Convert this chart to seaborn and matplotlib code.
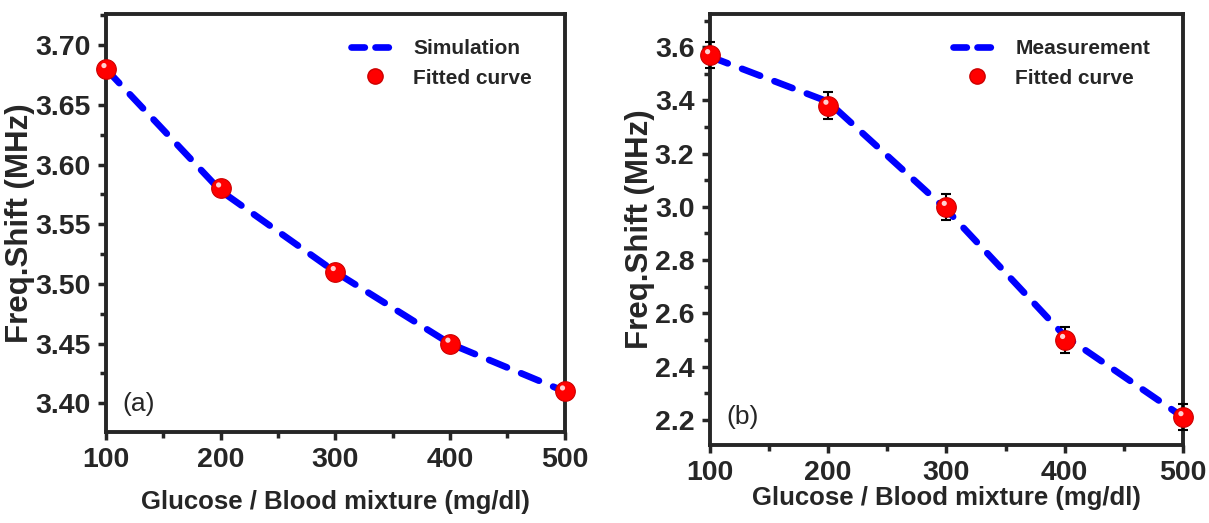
import numpy as np
import matplotlib
matplotlib.use("Agg")
import matplotlib.pyplot as plt
import matplotlib.transforms as mtransforms
from matplotlib.lines import Line2D
import seaborn as sns
import pandas as pd

# ---- data ----
glucose = [100, 200, 300, 400, 500]
sim_line = [3.68, 3.578, 3.51, 3.45, 3.41]
sim_points = [3.68, 3.58, 3.51, 3.45, 3.41]
meas_line = [3.565, 3.395, 2.99, 2.515, 2.21]
meas_points = [3.57, 3.38, 3.00, 2.50, 2.21]
meas_err = [0.05, 0.05, 0.05, 0.05, 0.05]

xticks = [100, 200, 300, 400, 500]
yticks_a = [3.40, 3.45, 3.50, 3.55, 3.60, 3.65, 3.70]
yticks_b = [2.2, 2.4, 2.6, 2.8, 3.0, 3.2, 3.4, 3.6]

sns.set_style("ticks")
plt.rcParams['font.family'] = ['Liberation Sans', 'DejaVu Sans']

fig = plt.figure(figsize=(12.09, 5.23), dpi=100)
ax1 = fig.add_axes([0.0877, 0.174, 0.3793, 0.799])
ax2 = fig.add_axes([0.587, 0.149, 0.3915, 0.824])

def draw(ax, line, pts, err, ylim, yticks, fmt, line_label, panel):
    df = pd.DataFrame({"x": glucose, "y": line})
    sns.lineplot(data=df, x="x", y="y", ax=ax, color="#0000ff", lw=4.8,
                 dashes=False, zorder=2, legend=False)
    ln = ax.lines[-1]
    ln.set_linestyle((0, (2.9, 2.3)))
    ln.set_dash_capstyle("round")
    if err is not None:
        ax.errorbar(glucose, pts, yerr=err, fmt="none", ecolor="black",
                    elinewidth=1.5, capsize=3.5, capthick=1.5, zorder=3,
                    clip_on=False)
    dfp = pd.DataFrame({"x": glucose, "y": pts})
    sns.scatterplot(data=dfp, x="x", y="y", ax=ax, color="#ff0000", s=200,
                    edgecolor="#cc0000", linewidth=0.8, zorder=4,
                    legend=False, clip_on=False)
    # highlight for sphere look
    off = mtransforms.offset_copy(ax.transData, fig=fig, x=-1.5, y=2.5, units="points")
    ax.scatter(glucose, pts, s=14, color="#ffd0d0", edgecolor="none",
               transform=off, zorder=5, clip_on=False)

    ax.set_xlim(100, 500)
    ax.set_ylim(*ylim)
    ax.set_xticks(xticks)
    ax.set_yticks(yticks)
    ax.set_yticklabels([fmt.format(v) for v in yticks])
    ax.set_xticks([150, 250, 350, 450], minor=True)
    mids = [(a + b) / 2 for a, b in zip(yticks[:-1], yticks[1:])]
    ax.set_yticks(mids + [yticks[-1] + (yticks[1] - yticks[0]) / 2], minor=True)
    ax.tick_params(axis="both", which="major", direction="out", length=6,
                   width=2.5, labelsize=20.5, pad=5)
    ax.tick_params(axis="both", which="minor", direction="out", length=4,
                   width=2.5)
    for lab in ax.get_xticklabels() + ax.get_yticklabels():
        lab.set_fontweight("bold")
    for sp in ax.spines.values():
        sp.set_linewidth(2.8)
        sp.set_visible(True)
    ax.set_xlabel("Glucose / Blood mixture (mg/dl)", fontsize=18.5,
                  fontweight="bold")
    ax.set_ylabel("Freq.Shift (MHz)", fontsize=22.5, fontweight="bold")
    ax.text(0.035, 0.05, panel, transform=ax.transAxes, fontsize=19)
    handles = [
        Line2D([], [], color="#0000ff", lw=4.8, linestyle=(0, (2.0, 1.6)),
               dash_capstyle="round"),
        Line2D([], [], color="#ff0000", marker="o", linestyle="none",
               markersize=11, markeredgecolor="#cc0000"),
    ]
    leg = ax.legend(handles, [line_label, "Fitted curve"], loc="upper right",
                    bbox_to_anchor=(0.97, 0.985), frameon=False, fontsize=15,
                    handlelength=2.3, handletextpad=0.7, labelspacing=0.5)
    for t in leg.get_texts():
        t.set_fontweight("bold")

draw(ax1, sim_line, sim_points, None, (3.376, 3.726), yticks_a, "{:.2f}",
     "Simulation", "(a)")
draw(ax2, meas_line, meas_points, meas_err, (2.105, 3.724), yticks_b, "{:.1f}",
     "Measurement", "(b)")

ax1.xaxis.labelpad = 12
ax2.xaxis.labelpad = 0
ax1.yaxis.labelpad = 0
ax2.yaxis.labelpad = 0

fig.savefig("out.png", dpi=100)
